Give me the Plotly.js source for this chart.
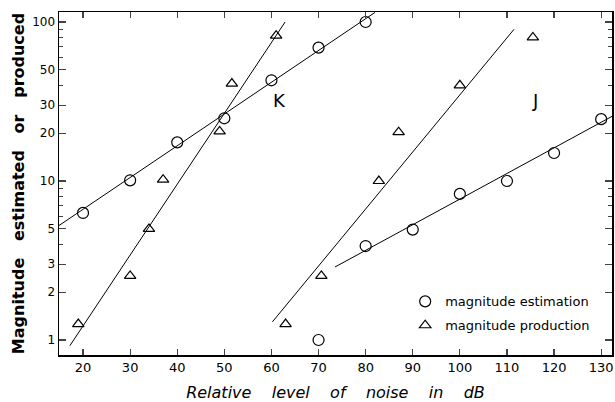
<!DOCTYPE html>
<html><head><meta charset="utf-8">
<script src="https://cdn.plot.ly/plotly-3.0.1.min.js"></script>
<style>html,body{margin:0;padding:0;background:#fff}#chart{width:615px;height:402px}</style>
</head><body><div id="chart"></div>
<script>
// Data
const estK_x = [20, 30, 40, 50, 60, 70, 80];
const estK_y = [6.3, 10.1, 17.5, 24.8, 43, 69, 100];
const estJ_x = [70, 80, 90, 100, 110, 120, 130];
const estJ_y = [1.0, 3.9, 4.95, 8.3, 10, 15, 24.5];
const prodK_x = [19, 30, 34, 37, 49, 51.6, 61];
const prodK_y = [1.26, 2.53, 5, 10.2, 20.5, 41, 82];
const prodJ_x = [63, 70.6, 82.8, 87, 100, 115.5];
const prodJ_y = [1.26, 2.53, 10, 20.3, 40, 80];
// fitted lines (end points)
const fitEstK_x = [14.9, 82];
const fitEstK_y = [5.25, 115];
const fitProdK_x = [17.2, 62.9];
const fitProdK_y = [0.92, 100];
const fitProdJ_x = [60.2, 111.5];
const fitProdJ_y = [1.3, 90];
const fitEstJ_x = [73.5, 132.3];
const fitEstJ_y = [2.88, 25.5];
const yTicks = [1, 2, 3, 5, 10, 20, 30, 50, 100];
const yMinor = [4, 6, 7, 8, 9, 40, 60, 70, 80, 90];
const xTicks = [20, 30, 40, 50, 60, 70, 80, 90, 100, 110, 120, 130];
const groupLabels = ['K', 'J'];
const groupLabelX = [61.8, 116];
const groupLabelY = [32, 32];

const lineStyle = {color: '#000', width: 1};
const circ = {symbol: 'circle-open', size: 11, color: '#000', line: {width: 1.2, color: '#000'}};
const tri = {symbol: 'triangle-up-open', size: 10, color: '#000', line: {width: 1.2, color: '#000'}};

const traces = [
  {x: fitEstK_x, y: fitEstK_y, mode: 'lines', line: lineStyle, showlegend: false, hoverinfo: 'skip'},
  {x: fitProdK_x, y: fitProdK_y, mode: 'lines', line: lineStyle, showlegend: false, hoverinfo: 'skip'},
  {x: fitProdJ_x, y: fitProdJ_y, mode: 'lines', line: lineStyle, showlegend: false, hoverinfo: 'skip'},
  {x: fitEstJ_x, y: fitEstJ_y, mode: 'lines', line: lineStyle, showlegend: false, hoverinfo: 'skip'},
  {x: estK_x, y: estK_y, mode: 'markers', marker: circ, name: 'magnitude estimation', legendgroup: 'e', showlegend: true},
  {x: estJ_x, y: estJ_y, mode: 'markers', marker: circ, name: 'magnitude estimation', legendgroup: 'e', showlegend: false},
  {x: prodK_x, y: prodK_y, mode: 'markers', marker: tri, name: 'magnitude production', legendgroup: 'p', showlegend: true},
  {x: prodJ_x, y: prodJ_y, mode: 'markers', marker: tri, name: 'magnitude production', legendgroup: 'p', showlegend: false}
];

const font = 'DejaVu Sans, sans-serif';
const layout = {
  width: 615, height: 402,
  margin: {l: 59, r: 3, t: 12, b: 47},
  paper_bgcolor: '#fff', plot_bgcolor: '#fff',
  font: {family: font, color: '#000', size: 13},
  showlegend: true,
  legend: {x: 0.626, y: 0.2, xanchor: 'left', yanchor: 'top', bgcolor: 'rgba(0,0,0,0)', font: {size: 13, family: font}, itemwidth: 30, tracegroupgap: 4},
  xaxis: {
    range: [14.9, 132.3], tickvals: xTicks, ticks: 'inside', ticklen: 6, tickwidth: 1.2,
    showline: true, linecolor: '#000', linewidth: 1.5, mirror: 'ticks', showgrid: false, zeroline: false,
    tickfont: {size: 13},
    title: {text: 'Relative&nbsp;&nbsp;&nbsp; level&nbsp;&nbsp;&nbsp; of&nbsp;&nbsp;&nbsp; noise&nbsp;&nbsp;&nbsp; in&nbsp;&nbsp;&nbsp; dB', font: {size: 16, style: 'italic'}, standoff: 12}
  },
  yaxis: {
    type: 'log', range: [Math.log10(0.805), Math.log10(115.6)],
    tickvals: yTicks, ticktext: yTicks.map(String), ticks: 'inside', ticklen: 7, tickwidth: 1.2,
    minor: {tickmode: 'array', tickvals: yMinor, ticks: 'inside', ticklen: 4, tickwidth: 1, showgrid: false},
    showline: true, linecolor: '#000', linewidth: 1.5, mirror: 'ticks', showgrid: false, zeroline: false,
    tickfont: {size: 12},
    title: {text: '<b>Magnitude&nbsp;&nbsp; estimated&nbsp;&nbsp; or&nbsp;&nbsp; produced</b>', font: {size: 16}, standoff: 3}
  },
  annotations: groupLabels.map((t, i) => ({x: groupLabelX[i], y: Math.log10(groupLabelY[i]), text: t, showarrow: false, font: {size: 18, family: font}}))
};
Plotly.newPlot('chart', traces, layout, {staticPlot: true, displayModeBar: false});
</script></body></html>
